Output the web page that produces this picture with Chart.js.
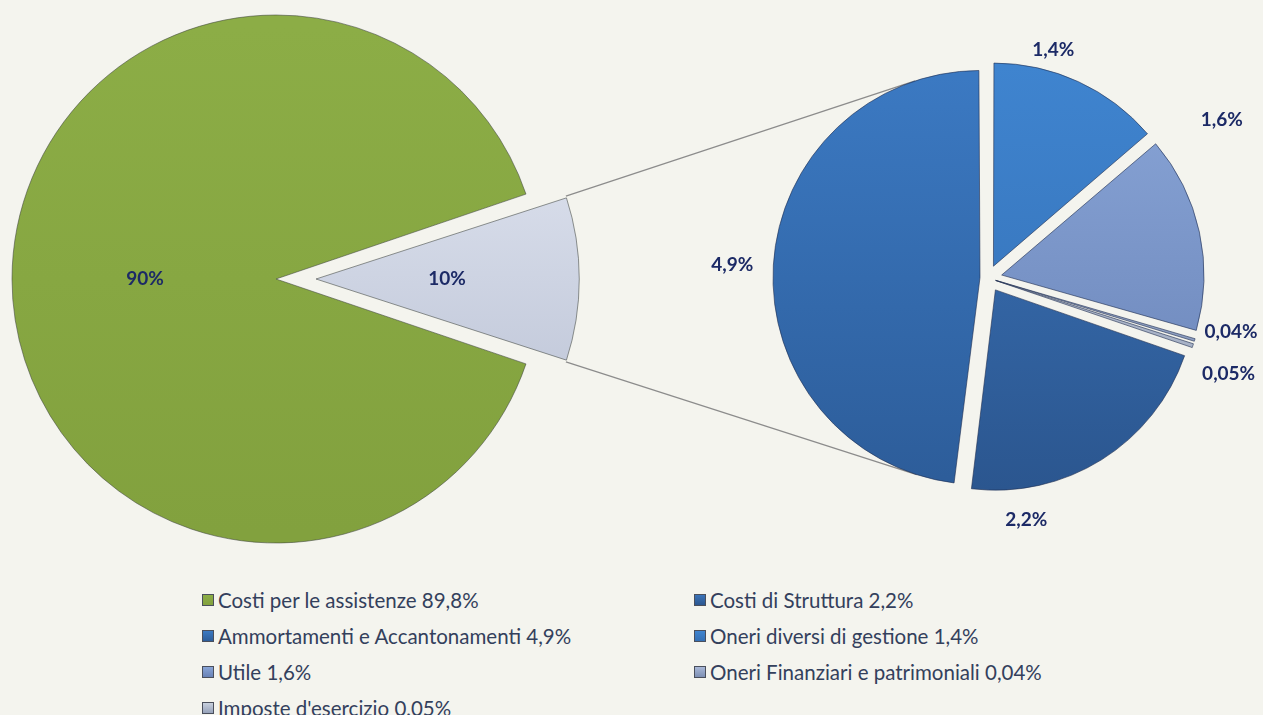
<!DOCTYPE html>
<html>
<head>
<meta charset="utf-8">
<script src="https://cdn.jsdelivr.net/npm/chart.js@4.4.1/dist/chart.umd.min.js"></script>
<style>
  html, body { margin: 0; padding: 0; background: #f4f4ee; }
  #wrap { position: relative; width: 1263px; height: 715px; overflow: hidden; }
  #wrap canvas { position: absolute; left: 0; top: 0; }
  #legend { position: absolute; left: 0; top: 0; font-family: Lato, sans-serif; font-size: 20.5px; color: #33405c; }
  .item { position: absolute; display: flex; align-items: center; white-space: nowrap; height: 22px; }
  .box { width: 10px; height: 10px; border: 1px solid #4a4f5c; margin-right: 4px; }
</style>
</head>
<body>
<div id="wrap">
  <canvas id="mainPie" width="1263" height="560"></canvas>
  <canvas id="detailPie" width="1263" height="560"></canvas>
  <div id="legend"></div>
</div>
<script>
// --- data ---
const mainLabels = ['Costi per le assistenze', 'Altri'];
const mainValues = [89.8, 10.19];

// secondary pie, in series order
const detailLabels = ['Costi di Struttura', 'Ammortamenti e Accantonamenti', 'Oneri diversi di gestione',
    'Utile', 'Oneri Finanziari e patrimoniali', "Imposte d'esercizio"];
const detailValues = [2.2, 4.9, 1.4, 1.6, 0.04, 0.05];

// --- styles ---
const mainColors = [['#8cad46', '#82a13e'], ['#e8ecf6', '#b3bbcf']];
const detailColors = [['#3b73b8', '#2b568f'], ['#3b79c2', '#2d5d9a'], ['#3f84cf', '#346fb4'],
    ['#89a5d7', '#6882b6'], ['#a9b8d8', '#7d8fb3'], ['#c8d0de', '#96a2ba']];
const mainOffsets = [48, 112];
const detailOffsets = [56, 32, 52, 56, 32, 32];
// label spots for the small pie: [degrees clockwise from 12 o'clock, distance from centre]
const detailLabelSpots = [[171, 245], [273, 256], [16, 237], [56, 282], [102.5, 249], [111.7, 259]];

const labelFont = 'bold 19px Lato, sans-serif';
const labelColor = '#1c2a66';

const fmt = v => String(v).replace('.', ',') + '%';

function sum(arr) { return arr.reduce((a, b) => a + b, 0); }

function gradientFill(colors) {
    return (c) => {
        const chart = c.chart;
        const area = chart.chartArea;
        if (!area) return colors[c.dataIndex][0];
        const cy = (area.top + area.bottom) / 2;
        const r = chart.options.radius;
        const g = chart.ctx.createLinearGradient(0, cy - r, 0, cy + r);
        g.addColorStop(0, colors[c.dataIndex][0]);
        g.addColorStop(1, colors[c.dataIndex][1]);
        return g;
    };
}

// where the library actually paints an exploded arc (see ArcElement.draw)
function drawnGeom(arc) {
    const t = (arc.options.offset || 0) / 4;
    const mid = (arc.startAngle + arc.endAngle) / 2;
    const circ = arc.endAngle - arc.startAngle;
    return {
        x: arc.x + Math.cos(mid) * t,
        y: arc.y + Math.sin(mid) * t,
        r: arc.outerRadius + t * (1 - Math.sin(Math.min(Math.PI, circ))),
        mid: mid
    };
}

const sliceLabels = {
    id: 'sliceLabels',
    afterDatasetsDraw(chart, args, opts) {
        const ctx = chart.ctx;
        const meta = chart.getDatasetMeta(0);
        const values = chart.data.datasets[0].data;
        ctx.save();
        ctx.font = labelFont;
        ctx.fillStyle = labelColor;
        ctx.textAlign = 'center';
        ctx.textBaseline = 'middle';
        meta.data.forEach((arc, i) => {
            const p = opts.spot(arc, i);
            ctx.fillText(opts.text(values[i], i, values), p.x, p.y);
        });
        ctx.restore();
    }
};

const connectors = {
    id: 'connectors',
    beforeDatasetsDraw(chart) {
        const left = Chart.getChart('mainPie');
        if (!left) return;
        const src = left.getDatasetMeta(0).data[1];
        const g = drawnGeom(src);
        const big = drawnGeom(chart.getDatasetMeta(0).data[1]);
        const corners = [src.startAngle, src.endAngle].map(a => ({
            x: g.x + Math.cos(a) * g.r, y: g.y + Math.sin(a) * g.r
        })).sort((a, b) => a.y - b.y);
        const ctx = chart.ctx;
        ctx.save();
        ctx.strokeStyle = '#8c8c8c';
        ctx.lineWidth = 1.3;
        corners.forEach((p, k) => {
            const dx = p.x - big.x, dy = p.y - big.y;
            const d = Math.hypot(dx, dy);
            const th = Math.atan2(dy, dx) + (k === 0 ? 1 : -1) * Math.acos(big.r / d);
            ctx.beginPath();
            ctx.moveTo(p.x, p.y);
            ctx.lineTo(big.x + Math.cos(th) * big.r, big.y + Math.sin(th) * big.r);
            ctx.stroke();
        });
        ctx.restore();
    }
};

const mainDeg = mainValues[1] / sum(mainValues) * 360;

new Chart(document.getElementById('mainPie'), {
    type: 'pie',
    data: {
        labels: mainLabels,
        datasets: [{
            data: mainValues,
            backgroundColor: gradientFill(mainColors),
            borderColor: 'rgba(60, 66, 60, 0.55)',
            borderWidth: 1,
            offset: mainOffsets,
            clip: false
        }]
    },
    options: {
        responsive: false,
        animation: false,
        events: [],
        radius: 252,
        rotation: 90 + mainDeg / 2,
        layout: { padding: { left: 0, right: 687, top: 0, bottom: 2 } },
        plugins: {
            legend: { display: false },
            tooltip: { enabled: false },
            sliceLabels: {
                spot: (arc) => {
                    const g = drawnGeom(arc);
                    const d = arc.outerRadius * 0.52;
                    return { x: g.x + Math.cos(g.mid) * d, y: g.y + Math.sin(g.mid) * d };
                },
                text: (v, i, all) => Math.round(v / sum(all) * 100) + '%'
            }
        }
    },
    plugins: [sliceLabels]
});

const detailTotal = sum(detailValues);

new Chart(document.getElementById('detailPie'), {
    type: 'pie',
    data: {
        labels: detailLabels,
        datasets: [{
            data: detailValues,
            backgroundColor: gradientFill(detailColors),
            borderColor: 'rgba(30, 45, 80, 0.6)',
            borderWidth: 1,
            offset: detailOffsets,
            clip: false
        }]
    },
    options: {
        responsive: false,
        animation: false,
        events: [],
        radius: 200,
        rotation: -(detailValues[0] + detailValues[1]) / detailTotal * 360,
        layout: { padding: { left: 713, right: 0, top: 0, bottom: 4 } },
        plugins: {
            legend: { display: false },
            tooltip: { enabled: false },
            sliceLabels: {
                spot: (arc, i) => {
                    const a = detailLabelSpots[i][0] * Math.PI / 180;
                    const d = detailLabelSpots[i][1];
                    return { x: arc.x + Math.sin(a) * d, y: arc.y - Math.cos(a) * d };
                },
                text: (v) => fmt(v)
            }
        }
    },
    plugins: [connectors, sliceLabels]
});

// --- legend (two columns, row by row) ---
const legendLabels = [mainLabels[0]].concat(detailLabels);
const legendValues = [mainValues[0]].concat(detailValues);
const legendColors = [mainColors[0]].concat(detailColors);
const legendEl = document.getElementById('legend');
legendLabels.forEach((lab, i) => {
    const item = document.createElement('div');
    item.className = 'item';
    item.style.left = (i % 2 === 0 ? 202 : 694) + 'px';
    item.style.top = (589 + Math.floor(i / 2) * 36) + 'px';
    const box = document.createElement('span');
    box.className = 'box';
    box.style.background = 'linear-gradient(' + legendColors[i][0] + ', ' + legendColors[i][1] + ')';
    const txt = document.createElement('span');
    txt.textContent = lab + ' ' + fmt(legendValues[i]);
    item.appendChild(box);
    item.appendChild(txt);
    legendEl.appendChild(item);
});
</script>
</body>
</html>
